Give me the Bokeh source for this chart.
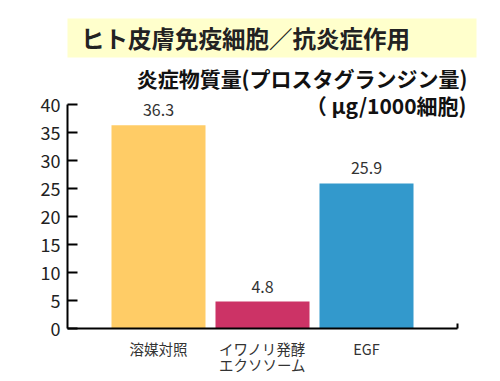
from bokeh.plotting import figure
from bokeh.layouts import column
from bokeh.models import ColumnDataSource, Range1d, FixedTicker, Label, BoxAnnotation
from bokeh.core.properties import value
from bokeh.embed import file_html
from bokeh.resources import INLINE

categories = ["溶媒対照", "イワノリ発酵\nエクソソーム", "EGF"]
values = [36.3, 4.8, 25.9]
colors = ["#FFCC66", "#CC3366", "#3399CC"]
y_ticks = [0, 5, 10, 15, 20, 25, 30, 35, 40]
y_max = 40
title_text = "ヒト皮膚免疫細胞／抗炎症作用"
ylabel_line1 = "炎症物質量(プロスタグランジン量)"
ylabel_line2 = "（ μg/1000細胞)"

FONT = "Noto Sans CJK JP"
W = 500
H = 381
HEADER_H = 60
xs = list(range(1, len(categories) + 1))
x_lo, x_hi = 0.125, len(categories) + 0.875

# ---------------- header (title band) ----------
hdr = figure(width=W, height=HEADER_H, x_range=Range1d(0, W),
             y_range=Range1d(HEADER_H, 0), x_axis_type=None, y_axis_type=None,
             min_border=0, output_backend="svg", toolbar_location=None)
hdr.outline_line_color = None
hdr.grid.visible = False
hdr.add_layout(BoxAnnotation(left=20, right=478, top=18, bottom=57,
                             left_units="canvas", right_units="canvas",
                             top_units="canvas", bottom_units="canvas",
                             fill_color="#FFFFCC", fill_alpha=1.0,
                             line_color=None))
hdr.add_layout(Label(x=245, y=37, x_units="canvas", y_units="canvas",
                     text=title_text, text_align="center", text_baseline="middle",
                     text_font=FONT, text_font_size="23.5px", text_font_style="bold",
                     text_color="#222222"))

# ---------------- chart ----------------
src = ColumnDataSource(dict(
    x=xs, top=values, color=colors, label=[f"{v:.1f}" for v in values]))

frame_h = 328 - HEADER_H
p = figure(width=W, height=H - HEADER_H,
           min_border_left=67, min_border_right=24,
           min_border_top=0, min_border_bottom=H - 328,
           x_range=Range1d(x_lo, x_lo + 409 / 104),
           y_range=Range1d(0, y_max * frame_h / 224),
           output_backend="svg", toolbar_location=None,
           background_fill_color="white", border_fill_color="white")
p.outline_line_color = None
p.grid.visible = False

p.vbar(x="x", top="top", bottom=0, width=0.904, fill_color="color",
       line_color=None, source=src)
p.text(x="x", y="top", text="label", source=src, text_align="center",
       text_baseline="bottom", y_offset=-9, text_font=value(FONT),
       text_font_size="16px", text_color="#333333")

ya = p.yaxis[0]
ya.ticker = FixedTicker(ticks=y_ticks)
ya.bounds = (0, y_max)
ya.axis_line_width = 2
ya.axis_line_color = "black"
ya.major_tick_in = 10
ya.major_tick_out = 0
ya.major_tick_line_width = 2
ya.minor_tick_line_color = None
ya.major_label_standoff = 7
ya.major_label_text_font = FONT
ya.major_label_text_font_size = "18px"
ya.major_label_text_color = "#222222"

xa = p.xaxis[0]
xa.ticker = FixedTicker(ticks=xs, minor_ticks=[x_hi])
xa.bounds = (x_lo, x_hi)
xa.major_label_overrides = {x: c for x, c in zip(xs, categories)}
xa.axis_line_width = 2
xa.axis_line_color = "black"
xa.major_tick_in = 0
xa.major_tick_out = 0
xa.minor_tick_in = 5
xa.minor_tick_out = 0
xa.minor_tick_line_width = 2
xa.minor_tick_line_color = "black"
xa.major_label_standoff = 9
xa.major_label_text_font = FONT
xa.major_label_text_font_size = "14.5px"
xa.major_label_text_color = "#333333"
xa.major_label_text_line_height = 0.8

# y-axis title (two lines), right aligned above the plot
p.add_layout(Label(x=467, y=77 - HEADER_H, x_units="canvas", y_units="canvas",
                   text=ylabel_line1, text_align="right", text_baseline="middle",
                   text_font=FONT, text_font_size="21px", text_font_style="bold",
                   text_color="#111111"))
p.add_layout(Label(x=466, y=104 - HEADER_H, x_units="canvas", y_units="canvas",
                   text=ylabel_line2, text_align="right", text_baseline="middle",
                   text_font=FONT, text_font_size="21px", text_font_style="bold",
                   text_color="#111111"))

layout = column(hdr, p, spacing=0)
open("out.html", "w").write(file_html(layout, INLINE))
